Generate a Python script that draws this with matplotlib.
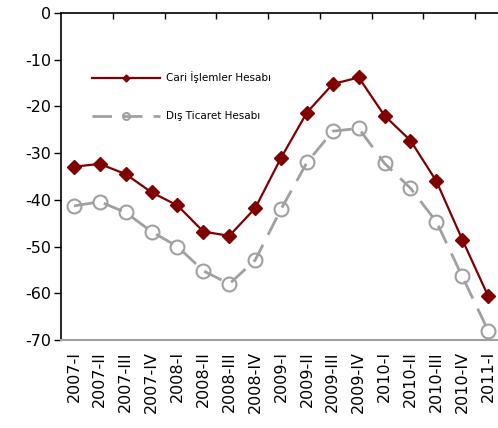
import matplotlib.pyplot as plt

plt.rcParams['axes.unicode_minus'] = False

donemler = ['2007-I', '2007-II', '2007-III', '2007-IV',
            '2008-I', '2008-II', '2008-III', '2008-IV',
            '2009-I', '2009-II', '2009-III', '2009-IV',
            '2010-I', '2010-II', '2010-III', '2010-IV',
            '2011-I']

cari_islemler = [-32.9, -32.3, -34.5, -38.4, -41.2, -46.8, -47.7, -41.8,
                 -31.0, -21.3, -15.2, -13.8, -22.0, -27.3, -36.0, -48.5,
                 -60.6]
dis_ticaret = [-41.3, -40.4, -42.7, -46.8, -50.0, -55.2, -58.0, -52.9,
               -42.0, -32.0, -25.3, -24.7, -32.2, -37.5, -44.7, -56.4,
               -68.0]

kirmizi = '#800000'
gri = '#a0a0a0'

fig = plt.figure(figsize=(4.98, 4.28), dpi=100)
ax = fig.add_axes([61 / 498, 1 - 340 / 428, 437 / 498, 327 / 428])

x = list(range(len(donemler)))
ax.plot(x, cari_islemler, color=kirmizi, lw=1.6, marker='D', ms=7,
        mfc=kirmizi, mec=kirmizi, label='Cari İşlemler Hesabı', zorder=3)
ax.plot(x, dis_ticaret, color=gri, lw=2.0, ls=(0, (7, 4)), marker='o', ms=10,
        mfc='none', mec=gri, mew=1.5, label='Dış Ticaret Hesabı', zorder=2)

ax.set_ylim(-70, 0)
ax.set_yticks(range(-70, 1, 10))
ax.set_xlim(-0.5, 16.38)
ax.set_xticks(x)
ax.set_xticklabels(donemler, rotation=90)
ax.set_xticks([i + 0.5 for i in range(1, 16, 2)], minor=True)

ax.tick_params(axis='y', labelsize=11.5, direction='out', length=5,
               width=1, pad=2)
ax.tick_params(axis='x', which='major', labelsize=11.5, length=0, pad=8)
ax.tick_params(axis='x', which='minor', top=True, bottom=False,
               direction='in', length=4, width=1, color='black')

ax.spines['right'].set_visible(False)
ax.spines['top'].set_color('black')
ax.spines['top'].set_linewidth(1.2)
ax.spines['left'].set_linewidth(1.2)
ax.spines['bottom'].set_color(gri)
ax.spines['bottom'].set_linewidth(1.5)

leg = ax.legend(loc='upper left', bbox_to_anchor=(0.05, 0.85), frameon=False,
                fontsize=7.5, handlelength=6.5, markerscale=0.5,
                labelspacing=2.7, handletextpad=0.6)

fig.savefig('out.png', dpi=100)
